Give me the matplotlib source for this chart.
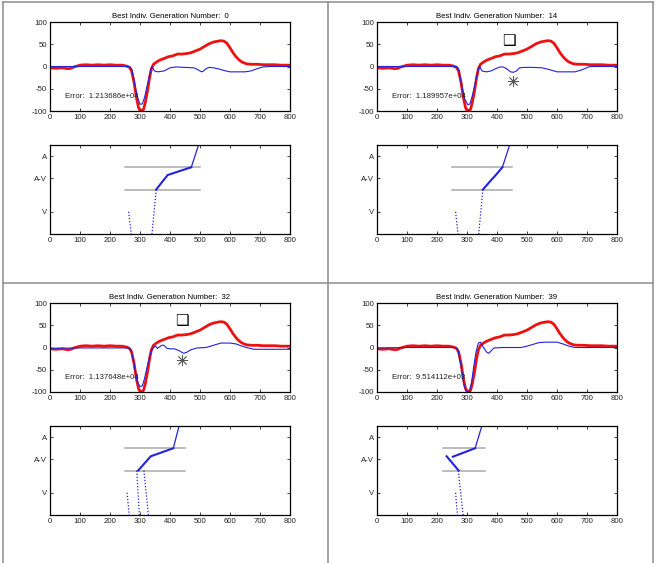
import matplotlib
matplotlib.use("Agg")
import matplotlib.pyplot as plt
from matplotlib.lines import Line2D

plt.rcParams['font.family'] = ['Liberation Sans', 'DejaVu Sans']
plt.rcParams['axes.unicode_minus'] = False

################################################################
# data
generations = [0, 14, 32, 39]
errors = ["1.213686e+04", "1.189957e+04", "1.137648e+04", "9.514112e+03"]

# target signal (red, same in every panel)
red_x = [0, 20, 40, 60, 70, 80, 90, 100, 120, 140, 160, 180, 200, 220, 240, 255, 265, 272,
         280, 288, 295, 300, 305, 312, 318, 325, 332, 338, 345, 355, 365, 380, 395, 410, 425,
         440, 455, 470, 485, 500, 515, 530, 545, 560, 570, 580, 590, 600, 610, 620, 630, 640,
         655, 670, 690, 710, 730, 750, 770, 790, 800]
red_y = [-3, -4, -3, -5, -4, -1, 1, 3, 4, 3, 4, 3, 4, 3, 3, 1, -2, -10,
         -35, -70, -92, -99, -100, -96, -80, -55, -25, -5, 5, 10, 14, 18, 22, 24, 28,
         28, 29, 31, 35, 39, 45, 51, 55, 57, 58, 57, 52, 42, 31, 22, 15, 10,
         6, 5, 5, 4, 4, 4, 3, 3, 3]

# best individual (blue) per generation
blue_x0 = [0, 100, 200, 265, 272, 280, 290, 300, 308, 315, 325, 335, 340, 348, 360, 380, 400,
           420, 450, 480, 495, 505, 512, 520, 530, 545, 560, 580, 600, 620, 650, 670, 690, 710,
           730, 800]
blue_y0 = [0, 0, 0, 0, -5, -30, -65, -85, -84, -70, -40, -10, 0, -10, -12, -10, -3,
           -1, -2, -3, -8, -12, -10, -5, -2, -3, -5, -9, -12, -12, -12, -10, -5, -1,
           0, 0]
blue_x14 = [0, 100, 200, 265, 272, 280, 290, 303, 310, 318, 328, 338, 342, 350, 365, 380, 395,
            410, 420, 432, 445, 455, 465, 475, 490, 520, 550, 575, 600, 630, 660, 685, 705, 720,
            800]
blue_y14 = [0, 0, 0, 0, -5, -35, -70, -86, -84, -65, -35, -5, 0, -10, -12, -10, -5,
            -1, -1, -5, -12, -13, -10, -3, -2, -2, -3, -7, -12, -12, -12, -7, -1, 0,
            0]
blue_x32 = [0, 100, 200, 262, 270, 280, 290, 300, 308, 315, 325, 335, 345, 352, 358, 366, 373,
            380, 390, 400, 415, 430, 445, 455, 470, 490, 520, 550, 570, 600, 620, 640, 660, 680,
            800]
blue_y32 = [-2, -1, -1, -1, -5, -35, -75, -88, -86, -70, -40, -12, 0, 3, -2, 2, 5,
            5, -2, -3, -3, -7, -13, -11, -5, -1, 0, 6, 10, 10, 8, 3, -1, -4,
            -4]
blue_x39 = [0, 100, 200, 262, 270, 280, 290, 300, 308, 315, 322, 330, 338, 345, 355, 365, 372,
            380, 390, 420, 480, 500, 520, 540, 560, 600, 620, 640, 660, 800]
blue_y39 = [-1, 0, 0, 0, -5, -40, -85, -100, -98, -80, -45, -10, 10, 12, 0, -10, -13,
            -8, -1, 0, 0, 3, 7, 11, 12, 12, 8, 3, 0, 0]

# markers (square / asterisk) in generations 14 and 32
square_pts = {14: (440, 58), 32: (439, 60)}
star_pts = {14: (454, -32), 32: (440, -28)}

# lower plots: state levels V=1, A-V=2.5, A=3.5, band limits at 2 and 3
state_ticks = [1, 2.5, 3.5]
state_labels = ["V", "A-V", "A"]
band_x = [(250, 500), (250, 450), (250, 450), (220, 360)]
band_levels = [2, 3]

dotted_paths = [
    [([262, 271], [1, 0]), ([354, 340], [2, 0])],
    [([262, 270], [1, 0]), ([353, 339], [2, 0])],
    [([257, 264], [1, 0]), ([289, 298], [2, 0]), ([313, 328], [2, 0])],
    [([262, 268], [1, 0]), ([271, 287], [2, 0])],
]
thick_paths = [
    [([354, 392, 471], [2, 2.65, 3])],
    [([353, 379, 396, 418], [2, 2.4, 2.65, 3])],
    [([294, 336, 411], [2, 2.64, 3])],
    [([272, 232], [2, 2.64]), ([253, 327], [2.62, 3])],
]
thin_paths = [
    ([471, 500], [3, 4.2]),
    ([418, 447], [3, 4.2]),
    ([411, 434], [3, 4.2]),
    ([327, 354], [3, 4.2]),
]
blue_x = [blue_x0, blue_x14, blue_x32, blue_x39]
blue_y = [blue_y0, blue_y14, blue_y32, blue_y39]

################################################################
W, H = 658, 563
FS = 5.6
RED = '#ee1111'
BLUE = '#2222dd'

fig = plt.figure(figsize=(W / 100, H / 100), dpi=100)


def px_axes(left, top, right, bottom):
    return fig.add_axes([left / W, 1 - bottom / H, (right - left) / W, (bottom - top) / H])


def style_axes(ax):
    ax.tick_params(direction='in', top=True, right=True, length=2.5, width=0.6,
                   labelsize=FS, pad=2, colors='#222222')
    for s in ax.spines.values():
        s.set_linewidth(0.9)
    ax.set_xlim(0, 800)
    ax.set_xticks(range(0, 801, 100))


panel_origins = [(0, 0), (327, 0), (0, 281), (327, 281)]

for i, gen in enumerate(generations):
    ox, oy = panel_origins[i]
    ax1 = px_axes(ox + 50, oy + 22, ox + 290, oy + 111)
    style_axes(ax1)
    ax1.set_ylim(-100, 100)
    ax1.set_yticks([-100, -50, 0, 50, 100])
    ax1.plot(red_x, red_y, color=RED, lw=2.0)
    ax1.plot(blue_x[i], blue_y[i], color=BLUE, lw=0.8)
    ax1.set_title(f"Best Indiv. Generation Number:  {gen}", fontsize=FS, pad=3)
    ax1.text(50, -68, f"Error:  {errors[i]}", fontsize=FS, va='center', color='#222222')
    if gen in square_pts:
        sx, sy = square_pts[gen]
        ax1.text(sx, sy, "\u2751", fontsize=11, ha='center', va='center',
                 family=['DejaVu Sans'], fontweight='bold')
        tx, ty = star_pts[gen]
        ax1.plot([tx], [ty], marker=(8, 2, 0), ms=8, mew=0.6, color='#555555')

    ax2 = px_axes(ox + 50, oy + 145, ox + 290, oy + 234)
    style_axes(ax2)
    ax2.set_ylim(0, 4)
    ax2.set_yticks(state_ticks)
    ax2.set_yticklabels(state_labels)
    b0, b1 = band_x[i]
    for lvl in band_levels:
        ax2.plot([b0, b1], [lvl, lvl], color='#aaaaaa', lw=1.1)
    for xs, ys in dotted_paths[i]:
        ax2.plot(xs, ys, color=BLUE, lw=0.9, ls=(0, (1, 1.5)))
    for xs, ys in thick_paths[i]:
        ax2.plot(xs, ys, color=BLUE, lw=1.5)
    xs, ys = thin_paths[i]
    ax2.plot(xs, ys, color=BLUE, lw=0.9)

# gray panel frames
frame_kw = dict(color='#8c8c8c', lw=1.1, transform=fig.transFigure)
for x in [2.5, 328.3, 653]:
    fig.add_artist(Line2D([x / W, x / W], [1 - 2 / H, 0], **frame_kw))
for y in [2, 283.3]:
    fig.add_artist(Line2D([2.5 / W, 653 / W], [1 - y / H, 1 - y / H], **frame_kw))

fig.savefig("out.png", dpi=100)
